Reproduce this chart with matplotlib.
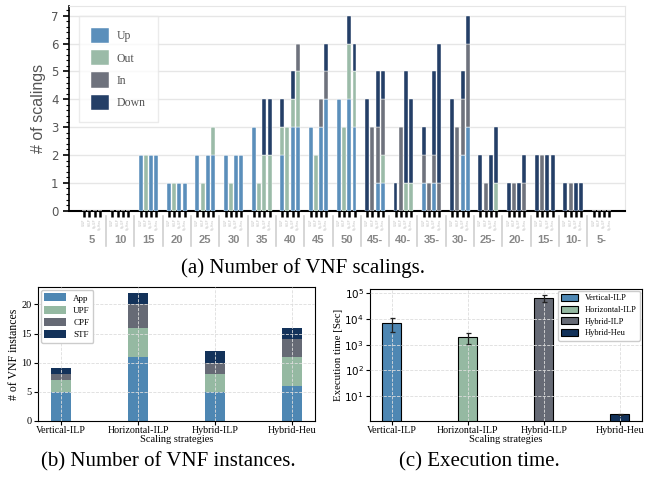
import numpy as np
import matplotlib
matplotlib.use('Agg')
import matplotlib.pyplot as plt
from matplotlib.ticker import MultipleLocator

plt.rcParams['mathtext.fontset'] = 'stix'

# ---- (a) number of VNF scalings: 19 groups x 4 bars ----
groups = ['5', '10', '15', '20', '25', '30', '35', '40', '45', '50',
          '45-', '40-', '35-', '30-', '25-', '20-', '15-', '10-', '5-']
sub_labels = ['V-ILP', 'H-ILP', 'Hy-ILP', 'Hy-Heu']

up = [[0, 0, 0, 0], [0, 0, 0, 0], [2, 0, 2, 2], [1, 0, 1, 1], [2, 0, 2, 2],
      [2, 0, 2, 2], [3, 0, 0, 0], [2, 0, 3, 3], [3, 0, 3, 4], [4, 0, 4, 3],
      [0, 0, 1, 1], [0, 0, 0, 0], [1, 0, 1, 0], [0, 0, 2, 3], [0, 0, 0, 0],
      [0, 0, 0, 0], [0, 0, 0, 0], [0, 0, 0, 0], [0, 0, 0, 0]]
out = [[0, 0, 0, 0], [0, 0, 0, 0], [0, 2, 0, 0], [0, 1, 0, 0], [0, 1, 0, 1],
       [0, 1, 0, 0], [0, 1, 2, 2], [1, 3, 1, 2], [0, 2, 0, 0], [0, 3, 2, 2],
       [0, 0, 0, 1], [0, 0, 1, 1], [0, 0, 0, 0], [0, 0, 0, 0], [0, 0, 0, 1],
       [0, 0, 0, 0], [0, 0, 0, 0], [0, 0, 0, 0], [0, 0, 0, 0]]
inn = [[0, 0, 0, 0], [0, 0, 0, 0], [0, 0, 0, 0], [0, 0, 0, 0], [0, 0, 0, 0],
       [0, 0, 0, 0], [0, 0, 0, 0], [0, 0, 0, 1], [0, 0, 1, 1], [0, 0, 0, 0],
       [0, 3, 2, 2], [0, 3, 0, 0], [1, 1, 1, 1], [0, 3, 2, 3], [0, 1, 0, 0],
       [0, 1, 0, 1], [0, 2, 0, 0], [0, 1, 0, 0], [0, 0, 0, 0]]
down = [[0, 0, 0, 0], [0, 0, 0, 0], [0, 0, 0, 0], [0, 0, 0, 0], [0, 0, 0, 0],
        [0, 0, 0, 0], [0, 0, 2, 2], [1, 0, 1, 0], [0, 0, 0, 1], [0, 0, 1, 1],
        [4, 0, 2, 1], [1, 0, 4, 3], [1, 0, 3, 5], [4, 0, 1, 1], [2, 0, 2, 2],
        [1, 0, 1, 1], [2, 0, 2, 2], [1, 0, 1, 1], [0, 0, 0, 0]]

# ---- (b) number of VNF instances ----
strategies = ['Vertical-ILP', 'Horizontal-ILP', 'Hybrid-ILP', 'Hybrid-Heu']
app = [5, 11, 5, 6]
upf = [2, 5, 3, 5]
cpf = [1, 4, 2, 3]
stf = [1, 2, 2, 2]

# ---- (c) execution time ----
exec_time = [7200, 2050, 67000, 1.95]
err_low = [4000, 1000, 20000, 0.1]
err_high = [4000, 850, 24000, 0.1]

c_up, c_out, c_in, c_down = '#5b8fbb', '#9bbba8', '#6e727d', '#243f67'
c_app, c_upf, c_cpf, c_stf = '#4e87b3', '#95b9a2', '#666a75', '#13325a'
gray_txt = '#555555'
serif = 'Liberation Serif'

fig = plt.figure(figsize=(6.51, 4.79), dpi=100)

# ================= (a) =================
ax = fig.add_axes([0.106, 0.560, 0.854, 0.4275])
n_g = len(groups)
offsets = (np.arange(4) - 1.5) * 0.184
x = (np.arange(n_g)[:, None] + offsets[None, :]).ravel()
u = np.array(up).ravel()
o = np.array(out).ravel()
i_ = np.array(inn).ravel()
d = np.array(down).ravel()
w = 0.14
kw = dict(width=w, edgecolor='white', linewidth=0.3, zorder=3)
ax.bar(x, u, color=c_up, label='Up', **kw)
ax.bar(x, o, bottom=u, color=c_out, label='Out', **kw)
ax.bar(x, i_, bottom=u + o, color=c_in, label='In', **kw)
ax.bar(x, d, bottom=u + o + i_, color=c_down, label='Down', **kw)

ax.set_xlim(-0.81, 18.83)
ax.set_ylim(0, 7.35)
ax.yaxis.set_major_locator(MultipleLocator(1))
ax.yaxis.set_minor_locator(MultipleLocator(0.2))
ax.grid(axis='y', color='#e6e6e6', linewidth=1, zorder=0)
ax.set_axisbelow(True)
for s in ['top', 'right']:
    ax.spines[s].set_color('#e6e6e6')
ax.spines['left'].set_color('black')
ax.spines['bottom'].set_color('black')
ax.spines['bottom'].set_linewidth(1.5)
ax.spines['left'].set_linewidth(1.2)
ax.tick_params(axis='y', which='major', length=4, width=1.2, colors='black',
               labelcolor=gray_txt, labelsize=8.5)
ax.tick_params(axis='y', which='minor', length=2, width=0.8, colors='black')
ax.set_xticks(x)
ax.set_xticklabels(sub_labels * n_g, rotation=90, fontsize=2.2, color='#bbbbbb')
ax.tick_params(axis='x', length=4, width=1.8, colors='black', pad=1.5,
               labelcolor='#bbbbbb')
ax.set_ylabel('# of scalings', fontsize=11.5, color=gray_txt, family='Liberation Sans')
for k, g in enumerate(groups):
    ax.text(k, -0.143, g, transform=ax.get_xaxis_transform(), ha='center', va='center',
            fontsize=8, fontweight='bold', color='#888888', family='Liberation Sans')
for k in range(n_g - 1):
    ax.plot([k + 0.5, k + 0.5], [-0.025, -0.17], transform=ax.get_xaxis_transform(),
            color='#d0d0d0', lw=1.2, clip_on=False)
leg = ax.legend(loc='upper left', bbox_to_anchor=(0.018, 0.951), borderaxespad=0,
                frameon=True, prop={'family': serif, 'size': 8.5},
                handlelength=1.5, handleheight=1.6, labelspacing=0.6,
                borderpad=1.0, handletextpad=0.7, fancybox=False)
leg.get_frame().set_edgecolor('#e6e6e6')
for t in leg.get_texts():
    t.set_color(gray_txt)

fig.text(0.465, 1 - 268 / 479, '(a) Number of VNF scalings.', ha='center', va='center',
         fontsize=15, family=serif)

# ================= (b) =================
bx = fig.add_axes([0.0584, 0.1217, 0.4255, 0.279])
pos = np.arange(len(strategies))
bw = 0.26
a = np.array(app); b_ = np.array(upf); c_ = np.array(cpf); s_ = np.array(stf)
bx.bar(pos, a, bw, color=c_app, label='App', zorder=2)
bx.bar(pos, b_, bw, bottom=a, color=c_upf, label='UPF', zorder=2)
bx.bar(pos, c_, bw, bottom=a + b_, color=c_cpf, label='CPF', zorder=2)
bx.bar(pos, s_, bw, bottom=a + b_ + c_, color=c_stf, label='STF', zorder=2)
bx.set_xlim(-0.3, 3.3)
bx.set_ylim(0, 23)
bx.set_xticks(pos)
bx.set_xticklabels(strategies, family=serif, fontsize=7.2)
bx.yaxis.set_major_locator(MultipleLocator(5))
for lab in bx.get_yticklabels():
    lab.set_family(serif)
bx.tick_params(axis='y', labelsize=7.5, length=3, pad=1.5)
bx.tick_params(axis='x', length=3, pad=1)
bx.grid(True, color='#dddddd', linestyle='--', linewidth=0.6, zorder=3)
bx.set_axisbelow(False)
bx.set_ylabel('# of VNF instances', family=serif, fontsize=8.5, labelpad=1)
bx.set_xlabel('Scaling strategies', family=serif, fontsize=7.5, labelpad=0)
lg = bx.legend(loc='upper left', borderaxespad=0.3, prop={'family': serif, 'size': 6.5},
               handlelength=2.4, handleheight=1.0, labelspacing=0.35,
               borderpad=0.4, handletextpad=0.8, framealpha=1)
lg.get_frame().set_edgecolor('#cccccc')
fig.text(0.258, 1 - 462 / 479, '(b) Number of VNF instances.', ha='center', va='center',
         fontsize=15, family=serif)

# ================= (c) =================
cx = fig.add_axes([0.5684, 0.1217, 0.4173, 0.275])
cols = [c_app, c_upf, c_cpf, c_stf]
for k in range(len(strategies)):
    cx.bar(pos[k], exec_time[k], 0.25, color=cols[k], edgecolor='black', linewidth=0.8,
           label=strategies[k], zorder=2,
           yerr=[[err_low[k]], [err_high[k]]], capsize=1.8,
           error_kw=dict(ecolor='#222222', elinewidth=0.9, capthick=0.9, zorder=4))
cx.set_yscale('log')
cx.set_ylim(1.1, 1.5e5)
cx.set_xlim(-0.285, 3.29)
cx.set_xticks(pos)
cx.set_xticklabels(strategies, family=serif, fontsize=7.2)
cx.tick_params(axis='y', labelsize=7.5, length=3, pad=1.5)
cx.tick_params(axis='y', which='minor', length=0)
cx.tick_params(axis='x', length=3, pad=1)
cx.grid(True, which='major', color='#dddddd', linestyle='--', linewidth=0.6, zorder=3)
cx.set_axisbelow(False)
cx.set_ylabel('Execution time [Sec]', family=serif, fontsize=7.8, labelpad=1)
cx.set_xlabel('Scaling strategies', family=serif, fontsize=7.5, labelpad=0)
lc = cx.legend(loc='upper right', borderaxespad=0.2, prop={'family': serif, 'size': 6},
               handlelength=2.0, handleheight=0.9, labelspacing=0.4,
               borderpad=0.4, handletextpad=0.8, framealpha=1)
lc.get_frame().set_edgecolor('#cccccc')
fig.text(0.736, 1 - 462 / 479, '(c) Execution time.', ha='center', va='center',
         fontsize=15, family=serif)

fig.savefig('out.png', dpi=100)
